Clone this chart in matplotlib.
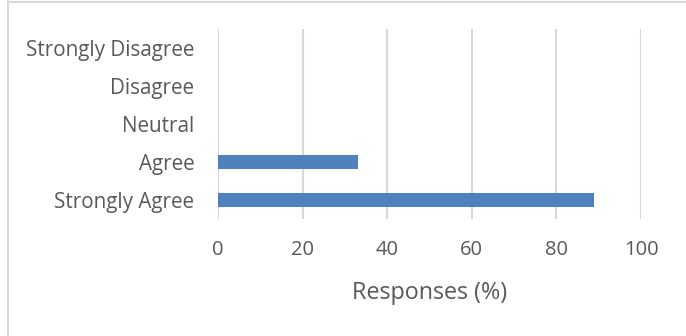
import matplotlib
matplotlib.use("Agg")
import matplotlib.pyplot as plt
from matplotlib.lines import Line2D

categories = ["Strongly Agree", "Agree", "Neutral", "Disagree", "Strongly Disagree"]
responses = [89, 33, 0, 0, 0]
x_ticks = [0, 20, 40, 60, 80, 100]
x_label = "Responses (%)"

plt.rcParams["font.family"] = ["Open Sans", "DejaVu Sans"]
text_color = "#595959"
grid_color = "#D9D9D9"
bar_color = "#4F81BD"

W, H = 686, 336
fig = plt.figure(figsize=(W / 100, H / 100), dpi=100)
ax = fig.add_axes([218 / W, 1 - 219 / H, (641 - 218) / W, (219 - 29) / H])

ax.barh(range(len(categories)), responses, height=0.36, color=bar_color, zorder=3)
ax.set_yticks(range(len(categories)))
ax.set_yticklabels(categories, fontsize=14.9)
ax.set_ylim(-0.5, len(categories) - 0.5)
ax.set_xlim(0, 100)
ax.set_xticks(x_ticks)
ax.set_xticklabels([str(t) for t in x_ticks], fontsize=14.5)
ax.xaxis.grid(True, color=grid_color, linewidth=1.5, zorder=0)
ax.tick_params(axis="both", length=0, colors=text_color)
ax.tick_params(axis="x", pad=15)
ax.tick_params(axis="y", pad=17)
for s in ax.spines.values():
    s.set_visible(False)
ax.set_xlabel(x_label, color=text_color, fontsize=16.8, labelpad=15)

# chart frame edges
fig.add_artist(Line2D([7.5 / W, 7.5 / W], [0, 1 - 1 / H], transform=fig.transFigure,
                      color=grid_color, linewidth=1.5))
fig.add_artist(Line2D([7.5 / W, 1], [1 - 1.5 / H, 1 - 1.5 / H], transform=fig.transFigure,
                      color=grid_color, linewidth=1.5))

fig.savefig("out.png", dpi=100)
